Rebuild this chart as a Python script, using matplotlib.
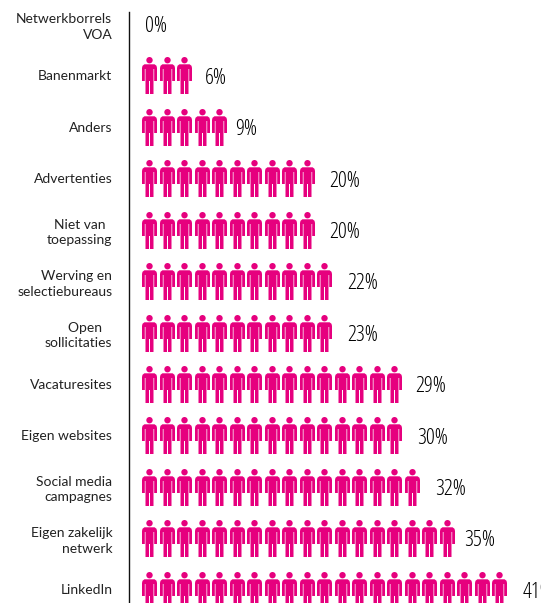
import matplotlib
matplotlib.use("Agg")
import matplotlib.pyplot as plt
from matplotlib.path import Path

categories = ["Netwerkborrels\nVOA", "Banenmarkt", "Anders", "Advertenties",
              "Niet van  \ntoepassing", "Werving en\nselectiebureaus",
              "Open   \nsollicitaties", "Vacaturesites", "Eigen websites",
              "Social media\ncampagnes", "Eigen zakelijk\nnetwerk", "LinkedIn"]
percentages = [0, 6, 9, 20, 20, 22, 23, 29, 30, 32, 35, 41]
person_counts = [0, 3, 5, 10, 10, 11, 11, 15, 15, 16, 18, 21]
label_gaps = [14, 21, 16, 23, 23, 23, 23, 21, 23, 24, 18, 24]

PINK = "#E6007E"


def person_marker():
    """Standing figure: head, upper body with arms, and two legs."""
    def poly(pts):
        return Path([(x - 7.5, 18.5 - y) for x, y in pts] + [(0, 0)], closed=True)
    head = Path.circle((0, 18.5 - 3.2), 3.2)
    upper = poly([(0, 11), (0.5, 8.8), (2.4, 7.3), (12.6, 7.3), (14.5, 8.8), (15, 11),
                  (15, 24), (12.2, 24), (12.2, 12), (11.5, 12), (11.5, 24),
                  (3.5, 24), (3.5, 12), (2.8, 12), (2.8, 24), (0, 24)])
    left_leg = poly([(3.5, 24), (7.0, 24), (7.0, 37), (3.5, 37)])
    right_leg = poly([(8.0, 24), (11.5, 24), (11.5, 37), (8.0, 37)])
    return Path.make_compound_path(head, upper, left_leg, right_leg)


fig = plt.figure(figsize=(5.6, 6.03), dpi=100, facecolor="white")
ax = fig.add_axes([129 / 560, 0, (541 - 129) / 560, (603 - 12) / 603])
ax.set_xlim(-20 / 17.5, 392 / 17.5)
ax.set_ylim((603 - 24.1) / 51.4, (12 - 24.1) / 51.4)

marker = person_marker()
rows = range(len(categories))
for row, count, pct, gap in zip(rows, person_counts, percentages, label_gaps):
    if count:
        ax.plot(range(count), [row] * count, ls="none", marker=marker,
                markersize=26.64, color=PINK, markeredgewidth=0)
    ax.annotate(f"{pct}%", xy=(count - 1, row), xytext=(gap * 0.72, -2),
                textcoords="offset points", ha="left", va="center",
                family="Open Sans", stretch="condensed", weight=300, fontsize=16,
                color="#000000", clip_on=True)

for side in ("top", "right", "bottom"):
    ax.spines[side].set_visible(False)
ax.spines["left"].set_linewidth(1.0)
ax.spines["left"].set_color("#111111")
ax.set_xticks([])
ax.set_yticks(list(rows))
ax.set_yticklabels(categories, family="Lato", fontsize=10, color="#222222",
                   linespacing=1.35, ha="right")
ax.tick_params(axis="y", length=0, pad=12)

fig.savefig("out.png", dpi=100)
